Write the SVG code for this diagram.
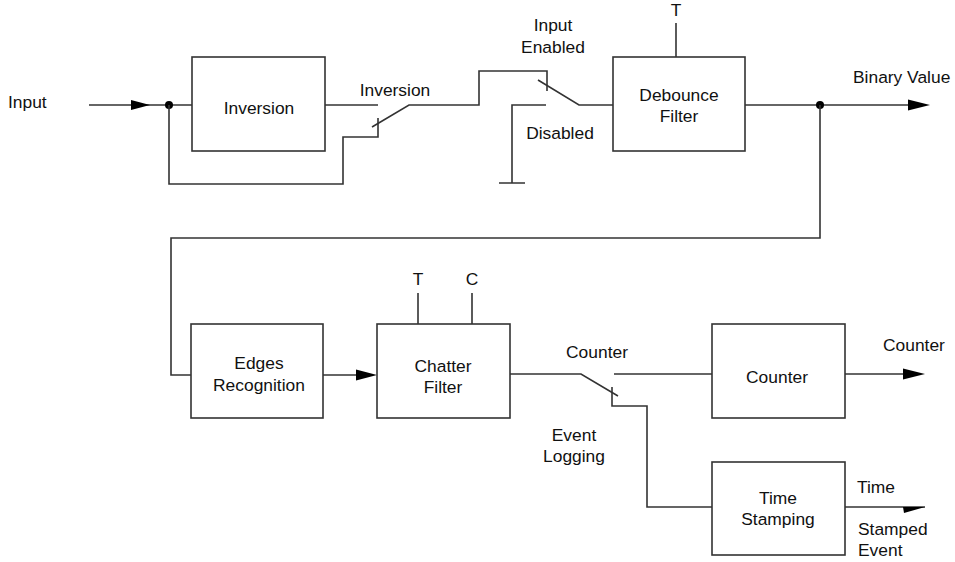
<svg xmlns="http://www.w3.org/2000/svg" width="955" height="562" viewBox="0 0 955 562">
<defs>
<style>
.box{fill:#fff;stroke:#333;stroke-width:1.6}
.ln{fill:none;stroke:#333;stroke-width:1.6}
text{font-family:"Liberation Sans",Arial,sans-serif;font-size:17.4px;fill:#111}
.c{text-anchor:middle}
.ah{fill:#000}
</style>
</defs>
<rect width="955" height="562" fill="#fff"/>
<g id="connectors">
<path class="ln" d="M89,105 H192"/>
<polygon class="ah" points="131,100 150,105 131,110"/>
<circle cx="169" cy="105" r="4" fill="#000"/>
<path class="ln" d="M169,105 V184 H343 V137 H378 V118"/>
<path class="ln" d="M325,105 H378"/>
<path class="ln" d="M372,127 L409,105 H479 V71 H547 V91"/>
<path class="ln" d="M538,80 L579,105 H613"/>
<path class="ln" d="M546,105 H512 V183 M499,183 H525"/>
<path class="ln" d="M676,23 V57"/>
<path class="ln" d="M745,105 H910"/>
<polygon class="ah" points="908,99.5 930,105 908,110.5"/>
<circle cx="820" cy="105" r="4" fill="#000"/>
<path class="ln" d="M820,105 V238 H171 V375 H191"/>
<path class="ln" d="M323,375 H360"/>
<polygon class="ah" points="356,369.5 377,375 356,380.5"/>
<path class="ln" d="M418,293 V324 M472,293 V324"/>
<path class="ln" d="M510,374 H581 L618,396"/>
<path class="ln" d="M612,387 V406 H647 V507 H712"/>
<path class="ln" d="M614,374 H712"/>
<path class="ln" d="M845,374 H905"/>
<polygon class="ah" points="903,368.5 925,374 903,379.5"/>
<path class="ln" d="M845,507 H925"/>
<polygon class="ah" points="903,507 925,507 904,513"/>
</g>
<g id="node-inversion">
<rect class="box" x="192" y="57" width="133" height="94"/>
<text class="c" x="259" y="114">Inversion</text>
</g>
<g id="node-debounce">
<rect class="box" x="613" y="57" width="132" height="94"/>
<text class="c" x="679" y="101">Debounce</text>
<text class="c" x="679" y="122">Filter</text>
</g>
<g id="node-edges">
<rect class="box" x="191" y="324" width="132" height="94"/>
<text class="c" x="259" y="369">Edges</text>
<text class="c" x="259" y="391">Recognition</text>
</g>
<g id="node-chatter">
<rect class="box" x="377" y="324" width="133" height="94"/>
<text class="c" x="443" y="372">Chatter</text>
<text class="c" x="443" y="393">Filter</text>
</g>
<g id="node-counter">
<rect class="box" x="712" y="324" width="133" height="94"/>
<text class="c" x="777" y="383">Counter</text>
</g>
<g id="node-timestamp">
<rect class="box" x="712" y="462" width="133" height="93"/>
<text class="c" x="778" y="504">Time</text>
<text class="c" x="778" y="525">Stamping</text>
</g>
<g id="labels">
<text x="8" y="108">Input</text>
<text class="c" x="395" y="96">Inversion</text>
<text class="c" x="553" y="31">Input</text>
<text class="c" x="553" y="53">Enabled</text>
<text class="c" x="560" y="139">Disabled</text>
<text class="c" x="676" y="16">T</text>
<text x="853" y="83">Binary Value</text>
<text class="c" x="418" y="285">T</text>
<text class="c" x="472" y="285">C</text>
<text class="c" x="597" y="358">Counter</text>
<text x="883" y="351">Counter</text>
<text class="c" x="574" y="441">Event</text>
<text class="c" x="574" y="462">Logging</text>
<text x="857" y="493">Time</text>
<text x="858" y="535">Stamped</text>
<text x="858" y="556">Event</text>
</g>
</svg>
